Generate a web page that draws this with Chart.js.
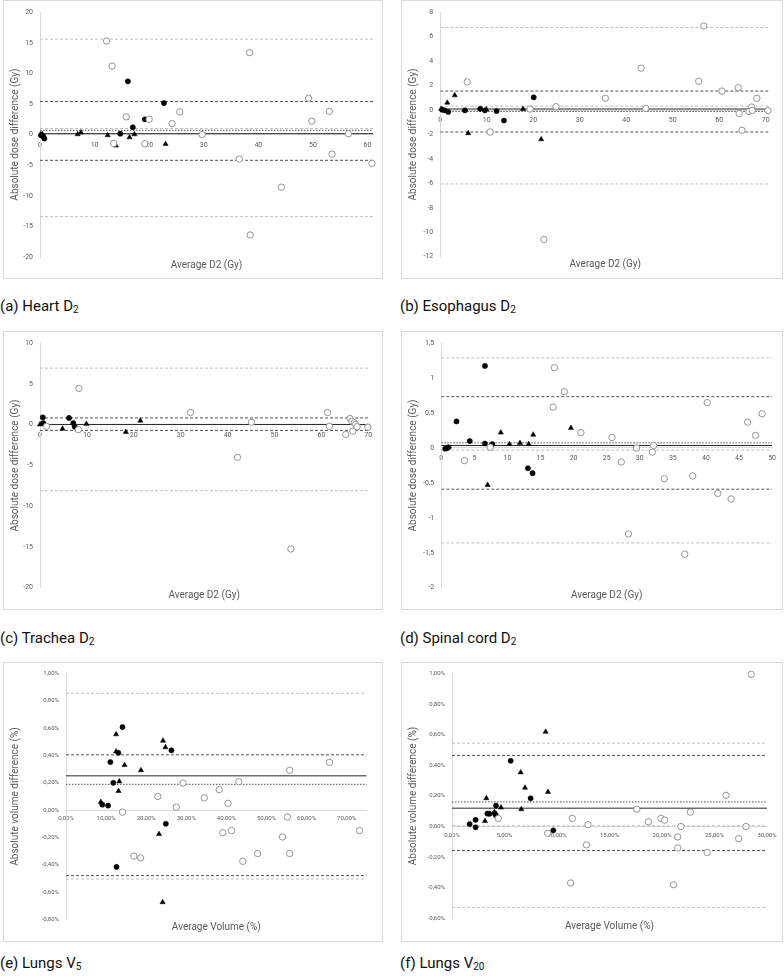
<!DOCTYPE html>
<html>
<head>
<meta charset="utf-8">
<script src="https://cdn.jsdelivr.net/npm/chart.js@4.4.1/dist/chart.umd.min.js"></script>
<style>
  body { margin: 0; background: #fff; width: 784px; height: 976px; position: relative; overflow: hidden;
         font-family: "Liberation Sans Narrow", Roboto, sans-serif; }
  .panel { position: absolute; border: 1px solid #d9d9d9; background: #fff; }
  .panel canvas { display: block; }
  .cap { position: absolute; font-size: 15px; line-height: 18px; color: #111; white-space: nowrap; }
  .cap sub { font-size: 10px; vertical-align: -2px; line-height: 0; }
</style>
</head>
<body>

<div class="panel" style="left:3px;top:0;width:378px;height:277px"><canvas id="cA" width="378" height="277"></canvas></div>
<div class="panel" style="left:401px;top:0;width:380px;height:277px"><canvas id="cB" width="380" height="277"></canvas></div>
<div class="cap" style="left:0;top:297px">(a) Heart D<sub>2</sub></div>
<div class="cap" style="left:400px;top:297px">(b) Esophagus D<sub>2</sub></div>

<div class="panel" style="left:3px;top:331px;width:378px;height:277px"><canvas id="cC" width="378" height="277"></canvas></div>
<div class="panel" style="left:401px;top:331px;width:380px;height:277px"><canvas id="cD" width="380" height="277"></canvas></div>
<div class="cap" style="left:0;top:629px">(c) Trachea D<sub>2</sub></div>
<div class="cap" style="left:400px;top:629px">(d) Spinal cord D<sub>2</sub></div>

<div class="panel" style="left:3px;top:662px;width:378px;height:278px"><canvas id="cE" width="378" height="278"></canvas></div>
<div class="panel" style="left:401px;top:662px;width:380px;height:278px"><canvas id="cF" width="380" height="278"></canvas></div>
<div class="cap" style="left:0;top:954px">(e) Lungs V<sub>5</sub></div>
<div class="cap" style="left:400px;top:954px">(f) Lungs V<sub>20</sub></div>

<script>
// (a) Heart D2 -- [average, difference] in Gy
const heartOpen = [[12.2,15.3],[13.2,11.2],[13.5,-1.45],[15.8,2.9],[19.2,-1.5],[20.0,2.5],[24.2,1.8],[25.6,3.7],[29.7,0],
  [36.5,-4.0],[38.4,13.4],[38.5,-16.4],[44.2,-8.6],[49.2,5.95],[49.8,2.2],[53.0,3.8],[53.5,-3.2],[56.5,0.15],[60.8,-4.7]];
const heartFilled = [[0.2,-0.1],[0.6,-0.3],[0.8,-0.65],[14.7,0.15],[16.1,8.7],[17.0,1.2],[19.2,2.5],[22.7,5.15]];
const heartTri = [[0.1,0],[0.4,0.1],[6.9,0.05],[7.5,0.35],[12.4,-0.1],[13.9,-1.8],[16.4,-0.45],[17.3,0.05],[23.0,-1.55]];
const heartGrayLines = [15.6, 1.0, -13.4];
const heartDashLines = [5.4, -4.2];
const heartDotLines = [0.7];
const heartSolidLines = [0.15];

// (b) Esophagus D2
const esoOpen = [[5.8,2.3],[10.7,-1.8],[19.3,0.08],[22.3,-10.6],[24.9,0.27],[35.5,0.96],[43.2,3.42],[44.2,0.13],[55.6,2.35],
  [56.7,6.87],[60.6,1.55],[64.1,1.82],[64.3,-0.3],[64.9,-1.66],[66.4,-0.13],[67.0,0.24],[67.1,-0.03],[68.1,0.96],[70.5,-0.05]];
const esoFilled = [[0.4,0.03],[0.9,-0.03],[1.7,-0.16],[5.3,-0.03],[8.6,0.1],[9.6,-0.03],[12.1,-0.08],[13.7,-0.86],[20.1,1.04]];
const esoTri = [[0.2,0.08],[1.5,0.6],[3.1,1.2],[6.0,-1.9],[9.9,0.05],[17.8,0.08],[21.7,-2.4]];
const esoGrayLines = [6.75, 0.32, -6.05];
const esoDashLines = [1.55, -1.8];
const esoDotLines = [-0.12];
const esoSolidLines = [0.08];

// (c) Trachea D2
const trachOpen = [[1.4,-0.2],[8.2,-0.6],[8.3,4.45],[32.1,1.5],[42.1,-4.0],[45.1,0.3],[53.5,-15.25],[61.3,1.5],[61.7,-0.2],
  [65.2,-1.2],[66.1,0.75],[66.5,0.43],[66.7,-0.8],[67.0,0.23],[67.3,0.03],[67.6,-0.25],[69.9,-0.3]];
const trachFilled = [[0.6,0.9],[0.7,0.2],[6.2,0.83],[7.1,0.2],[7.4,-0.25]];
const trachTri = [[0,0.03],[0.35,0.1],[4.8,-0.5],[9.9,0.1],[18.3,-0.9],[21.4,0.5]];
const trachGrayLines = [6.94, -8.1];
const trachDashLines = [0.83, -0.7];
const trachDotLines = [];
const trachSolidLines = [0.03];

// (d) Spinal cord D2
const spinalOpen = [[3.5,-0.18],[7.4,0.01],[16.9,0.585],[17.1,1.15],[18.6,0.805],[21.1,0.22],[25.8,0.15],[27.2,-0.2],[28.3,-1.23],
  [29.5,0.0],[31.9,-0.06],[32.1,0.036],[33.7,-0.44],[36.8,-1.52],[38.0,-0.40],[40.2,0.65],[41.8,-0.65],[43.8,-0.73],
  [46.3,0.37],[47.5,0.18],[48.5,0.49]];
const spinalFilled = [[0.6,-0.01],[0.9,0],[1.1,0.01],[2.3,0.38],[4.3,0.1],[6.6,1.175],[6.6,0.064],[7.7,0.055],[13.1,-0.29],[13.8,-0.36]];
const spinalTri = [[7.0,-0.53],[7.5,0.04],[9.0,0.22],[10.3,0.055],[11.9,0.07],[13.2,0.055],[13.9,0.19],[19.6,0.285]];
const spinalGrayLines = [1.29, -0.03, -1.36];
const spinalDashLines = [0.735, -0.59];
const spinalDotLines = [0.074];
const spinalSolidLines = [0.036];

// (e) Lungs V5 -- [average, difference] in %
const v5Open = [[14.1,-0.015],[16.9,-0.337],[18.6,-0.35],[22.9,0.1],[27.5,0.021],[29.2,0.198],[34.5,0.09],[38.2,0.15],[39.1,-0.166],
  [40.4,0.05],[41.3,-0.15],[43.1,0.208],[44.1,-0.375],[47.8,-0.318],[54.0,-0.197],[55.2,-0.05],[55.8,0.292],[55.8,-0.318],
  [65.7,0.35],[73.2,-0.15]];
const v5Filled = [[9.06,0.04],[10.5,0.033],[11.06,0.352],[11.8,0.2],[13.05,0.42],[14.1,0.608],[26.3,0.438],[24.9,-0.1],[12.6,-0.416]];
const v5Tri = [[8.7,0.06],[12.5,0.555],[12.5,0.43],[14.6,0.33],[13.3,0.21],[13.1,0.14],[18.7,0.292],[24.2,0.508],[24.8,0.46],
  [23.2,-0.176],[24.1,-0.675]];
const v5GrayLines = [0.856, -0.505];
const v5DashLines = [0.405, -0.48];
const v5DotLines = [0.189];
const v5SolidLines = [0.251];

// (f) Lungs V20
const v20Open = [[4.41,0.053],[9.11,-0.044],[11.3,-0.369],[11.46,0.053],[12.8,-0.12],[12.95,0.012],[17.6,0.113],[18.7,0.031],
  [19.9,0.053],[20.25,0.042],[21.1,-0.38],[21.5,-0.068],[21.5,-0.14],[21.8,0.0],[22.7,0.094],[24.3,-0.17],[26.1,0.204],
  [27.3,-0.079],[28.0,0.0],[28.5,0.995]];
const v20Filled = [[1.68,0.016],[2.25,0.044],[2.25,-0.005],[3.37,0.085],[3.56,0.083],[4.06,0.087],[4.16,0.075],[4.19,0.137],
  [5.59,0.43],[7.49,0.185],[9.65,-0.025]];
const v20Tri = [[3.14,0.036],[3.27,0.185],[4.03,0.094],[4.67,0.124],[6.54,0.354],[6.6,0.113],[6.95,0.254],[8.92,0.619],[9.14,0.226]];
const v20GrayLines = [0.545, 0.005, -0.529];
const v20DashLines = [0.465, -0.157];
const v20DotLines = [0.161];
const v20SolidLines = [0.12];

// axis ticks
const doseXTicksA = [0, 10, 20, 30, 40, 50, 60];
const doseXTicks70 = [0, 10, 20, 30, 40, 50, 60, 70];
const spinalXTicks = [0, 5, 10, 15, 20, 25, 30, 35, 40, 45, 50];
const v5XTicks = [0, 10, 20, 30, 40, 50, 60, 70];
const v20XTicks = [0, 5, 10, 15, 20, 25, 30];
const heartYTicks = [-20, -15, -10, -5, 0, 5, 10, 15, 20];
const esoYTicks = [-12, -10, -8, -6, -4, -2, 0, 2, 4, 6, 8];
const trachYTicks = [-20, -15, -10, -5, 0, 5, 10];
const spinalYTicks = [-2, -1.5, -1, -0.5, 0, 0.5, 1, 1.5];
const v5YTicks = [-0.8, -0.6, -0.4, -0.2, 0, 0.2, 0.4, 0.6, 0.8, 1.0];
const v20YTicks = [-0.6, -0.4, -0.2, 0, 0.2, 0.4, 0.6, 0.8, 1.0];

Chart.defaults.font.family = '"Liberation Sans Narrow", Roboto, sans-serif';
Chart.defaults.color = '#595959';

const comma = v => String(Math.round(v * 100) / 100).replace('.', ',');
const pct = v => v.toFixed(2).replace('.', ',') + '%';
const pts = arr => arr.map(([x, y]) => ({ x, y }));

function drawPanel(id, p) {
  const sets = [];
  function hline(vals, color, dash, width) {
    vals.forEach(v => sets.push({
      showLine: true, data: [{ x: p.xMin, y: v }, { x: p.xMax, y: v }],
      borderColor: color, borderWidth: width, borderDash: dash, pointRadius: 0, order: 2
    }));
  }
  hline(p.gray, '#bfbfbf', [3, 2], 1);
  hline(p.dash, '#404040', [3, 2], 0.9);
  hline(p.dot, '#404040', [1.5, 1.5], 0.9);
  hline(p.solid, '#262626', [], 1);

  sets.push({ data: pts(p.open), pointStyle: 'circle', pointRadius: 3.2, backgroundColor: '#fff',
    borderColor: '#8a8a8a', borderWidth: 0.9, clip: false, order: 0 });
  sets.push({ data: pts(p.filled), pointStyle: 'circle', pointRadius: 2.6, backgroundColor: '#000',
    borderColor: '#000', borderWidth: 0.5, clip: false, order: 0 });
  sets.push({ data: pts(p.tri), pointStyle: 'triangle', pointRadius: 3, backgroundColor: '#000',
    borderColor: '#000', borderWidth: 0.5, clip: false, order: 0 });

  new Chart(document.getElementById(id), {
    type: 'scatter',
    data: { datasets: sets },
    options: {
      responsive: false,
      animation: false,
      events: [],
      layout: { padding: { left: 0, top: p.top, right: p.right, bottom: p.bottom } },
      plugins: {
        legend: { display: false },
        tooltip: { enabled: false },
        title: {
          display: true, position: 'bottom', fullSize: false, text: p.xTitle,
          color: '#595959', font: { size: 10, weight: 'normal' }, padding: { top: 2, bottom: 2 }
        }
      },
      scales: {
        x: {
          type: 'linear', min: p.xMin, max: p.xMax, position: { y: 0 },
          grid: { display: false, drawTicks: false, tickLength: 0 },
          border: { display: true, color: '#d9d9d9', width: 1 },
          ticks: { font: { size: p.tickSize }, padding: p.xPad, maxRotation: 0, autoSkip: false, callback: p.xFmt },
          afterBuildTicks: s => { s.ticks = p.xTicks.map(v => ({ value: v })); }
        },
        y: {
          type: 'linear', min: p.yTicks[0], max: p.yTicks[p.yTicks.length - 1],
          grid: { display: false, drawTicks: false, tickLength: 0 },
          border: { display: true, color: '#d9d9d9', width: 1 },
          ticks: { font: { size: p.tickSize }, padding: 7, autoSkip: false, callback: p.yFmt },
          title: { display: true, text: p.yTitle, color: '#595959', font: { size: 10 }, padding: { top: 5, bottom: 0 } },
          afterBuildTicks: s => { s.ticks = p.yTicks.map(v => ({ value: v })); },
          afterFit: s => { s.width = p.left; }
        }
      }
    }
  });
}

const doseY = 'Absolute dose difference (Gy)';
const volY = 'Absolute volume difference (%)';

drawPanel('cA', { open: heartOpen, filled: heartFilled, tri: heartTri,
  gray: heartGrayLines, dash: heartDashLines, dot: heartDotLines, solid: heartSolidLines,
  xMin: 0, xMax: 61, xTicks: doseXTicksA, yTicks: heartYTicks, xFmt: v => v, yFmt: v => v,
  xTitle: 'Average D2 (Gy)', yTitle: doseY, tickSize: 7, xPad: 6,
  left: 36, top: 6.3, right: 9, bottom: 5 });

drawPanel('cB', { open: esoOpen, filled: esoFilled, tri: esoTri,
  gray: esoGrayLines, dash: esoDashLines, dot: esoDotLines, solid: esoSolidLines,
  xMin: 0, xMax: 71, xTicks: doseXTicks70, yTicks: esoYTicks, xFmt: v => v, yFmt: v => v,
  xTitle: 'Average D2 (Gy)', yTitle: doseY, tickSize: 7, xPad: 6,
  left: 38.3, top: 6.3, right: 11.7, bottom: 5.3 });

drawPanel('cC', { open: trachOpen, filled: trachFilled, tri: trachTri,
  gray: trachGrayLines, dash: trachDashLines, dot: trachDotLines, solid: trachSolidLines,
  xMin: 0, xMax: 70, xTicks: doseXTicks70, yTicks: trachYTicks, xFmt: v => v, yFmt: v => v,
  xTitle: 'Average D2 (Gy)', yTitle: doseY, tickSize: 7, xPad: 6,
  left: 36, top: 7, right: 13.7, bottom: 5.3 });

drawPanel('cD', { open: spinalOpen, filled: spinalFilled, tri: spinalTri,
  gray: spinalGrayLines, dash: spinalDashLines, dot: spinalDotLines, solid: spinalSolidLines,
  xMin: 0, xMax: 50, xTicks: spinalXTicks, yTicks: spinalYTicks, xFmt: v => v, yFmt: comma,
  xTitle: 'Average D2 (Gy)', yTitle: doseY, tickSize: 7, xPad: 6,
  left: 39.3, top: 7, right: 9, bottom: 5.3 });

drawPanel('cE', { open: v5Open, filled: v5Filled, tri: v5Tri,
  gray: v5GrayLines, dash: v5DashLines, dot: v5DotLines, solid: v5SolidLines,
  xMin: 0, xMax: 75, xTicks: v5XTicks, yTicks: v5YTicks, xFmt: pct, yFmt: pct,
  xTitle: 'Average Volume (%)', yTitle: volY, tickSize: 6, xPad: 5,
  left: 62, top: 6.3, right: 15.3, bottom: 5.7 });

drawPanel('cF', { open: v20Open, filled: v20Filled, tri: v20Tri,
  gray: v20GrayLines, dash: v20DashLines, dot: v20DotLines, solid: v20SolidLines,
  xMin: 0, xMax: 30, xTicks: v20XTicks, yTicks: v20YTicks, xFmt: pct, yFmt: pct,
  xTitle: 'Average Volume (%)', yTitle: volY, tickSize: 6, xPad: 5,
  left: 50, top: 8.7, right: 15, bottom: 6.7 });
</script>
</body>
</html>
